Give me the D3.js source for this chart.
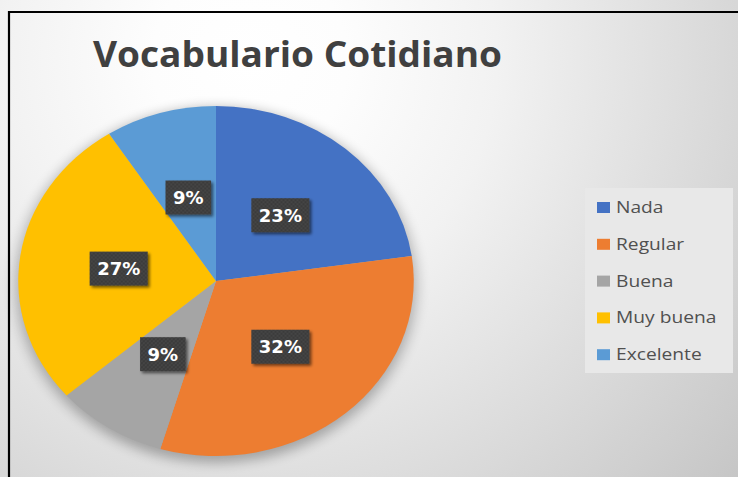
<!DOCTYPE html>
<html><head><meta charset="utf-8">
<script src="https://cdn.jsdelivr.net/npm/d3@7"></script>
<style>html,body{margin:0;padding:0;background:#fff;overflow:hidden}</style>
</head><body><svg id="chart" width="738" height="477"></svg>
<script>
const title = "Vocabulario Cotidiano";
const categories = ["Nada", "Regular", "Buena", "Muy buena", "Excelente"];
const counts = [5, 7, 2, 6, 2];
const colors = ["#4472c4", "#ed7d31", "#a5a5a5", "#ffc000", "#5b9bd5"];

const W = 738, H = 477;
const sx = 1.13;            // horizontal stretch of the original picture
const cx = 216, cy = 281, R = 175, labelR = 87;

const svg = d3.select("#chart");
const defs = svg.append("defs");

// background gradient
const bg = defs.append("radialGradient").attr("id", "bg")
  .attr("gradientUnits", "userSpaceOnUse")
  .attr("cx", 250).attr("cy", 60).attr("r", 650);
[[0, "#ffffff"], [0.15, "#fdfdfd"], [0.38, "#f2f2f2"], [0.74, "#d8d8d8"], [1, "#c5c5c5"]]
  .forEach(([o, c]) => bg.append("stop").attr("offset", o).attr("stop-color", c));

const pieShadow = defs.append("filter").attr("id", "pieShadow")
  .attr("x", "-20%").attr("y", "-20%").attr("width", "140%").attr("height", "140%");
pieShadow.append("feGaussianBlur").attr("stdDeviation", 6);

const boxShadow = defs.append("filter").attr("id", "boxShadow")
  .attr("x", "-30%").attr("y", "-30%").attr("width", "160%").attr("height", "160%");
boxShadow.append("feGaussianBlur").attr("in", "SourceAlpha").attr("stdDeviation", 1.6).attr("result", "b");
boxShadow.append("feOffset").attr("dx", 2).attr("dy", 2).attr("result", "o");
boxShadow.append("feComponentTransfer").append("feFuncA").attr("type", "linear").attr("slope", 0.55);
const mrg = boxShadow.append("feMerge");
mrg.append("feMergeNode");
mrg.append("feMergeNode").attr("in", "SourceGraphic");

const dots = defs.append("pattern").attr("id", "dots")
  .attr("patternUnits", "userSpaceOnUse").attr("width", 4).attr("height", 4);
dots.append("rect").attr("width", 4).attr("height", 4).attr("fill", "#3b3b3b");
dots.append("circle").attr("cx", 1).attr("cy", 1).attr("r", 0.7).attr("fill", "#575757");
dots.append("circle").attr("cx", 3).attr("cy", 3).attr("r", 0.7).attr("fill", "#575757");

svg.append("rect").attr("width", W).attr("height", H).attr("fill", "url(#bg)");

// frame (left and top edges visible)
svg.append("path").attr("d", `M9,${H} V12 H${W}`)
  .attr("fill", "none").attr("stroke", "#000").attr("stroke-width", 2.2);

// title
svg.append("text").attr("x", 93).attr("y", 67)
  .attr("font-family", "'Open Sans', sans-serif").attr("font-weight", 700)
  .attr("font-size", 35).attr("fill", "#404040")
  .attr("textLength", 409).attr("lengthAdjust", "spacingAndGlyphs")
  .text(title);

// pie
const total = d3.sum(counts);
const pct = d3.format(".0%");
const pie = d3.pie().sort(null).value(d => d)(counts);
const arc = d3.arc().innerRadius(0).outerRadius(R);
const labelArc = d3.arc().innerRadius(labelR).outerRadius(labelR);

const pg = svg.append("g").attr("transform", `translate(${cx},${cy}) scale(${sx},1)`);
pg.append("ellipse").attr("cx", 0).attr("cy", 4).attr("rx", R + 2).attr("ry", R + 3)
  .attr("fill", "#000").attr("opacity", 0.28).attr("filter", "url(#pieShadow)");
pg.selectAll("path.slice").data(pie).join("path").attr("class", "slice")
  .attr("d", arc).attr("fill", (d, i) => colors[i]);

// data labels
const lg = svg.append("g");
pie.forEach((d, i) => {
  const [lx, ly] = labelArc.centroid(d);
  const x = cx + lx * sx, y = cy + ly;
  const g = lg.append("g").attr("transform", `translate(${x},${y})`);
  const box = g.append("rect").attr("fill", "url(#dots)").attr("filter", "url(#boxShadow)");
  const t = g.append("text").attr("text-anchor", "middle").attr("y", 6.5)
    .attr("font-family", "'DejaVu Sans', sans-serif").attr("font-weight", 700)
    .attr("font-size", 18).attr("fill", "#fff")
    .text(pct(counts[i] / total));
  const w = t.node().getComputedTextLength() + 15, h = 34;
  box.attr("x", -w / 2).attr("y", -h / 2).attr("width", w).attr("height", h);
});

// legend
const leg = svg.append("g");
leg.append("rect").attr("x", 585).attr("y", 188).attr("width", 148).attr("height", 185)
  .attr("fill", "#e8e8e8");
const ly0 = 207.5, lstep = 36.8;
categories.forEach((c, i) => {
  const y = ly0 + i * lstep;
  leg.append("rect").attr("x", 597).attr("y", y - 5.5).attr("width", 13).attr("height", 11)
    .attr("fill", colors[i]);
  leg.append("g").attr("transform", `translate(616,${y + 5.5}) scale(${sx},1)`)
    .append("text").attr("font-family", "'Open Sans', sans-serif")
    .attr("font-size", 17).attr("fill", "#505050").text(c);
});
</script></body></html>
